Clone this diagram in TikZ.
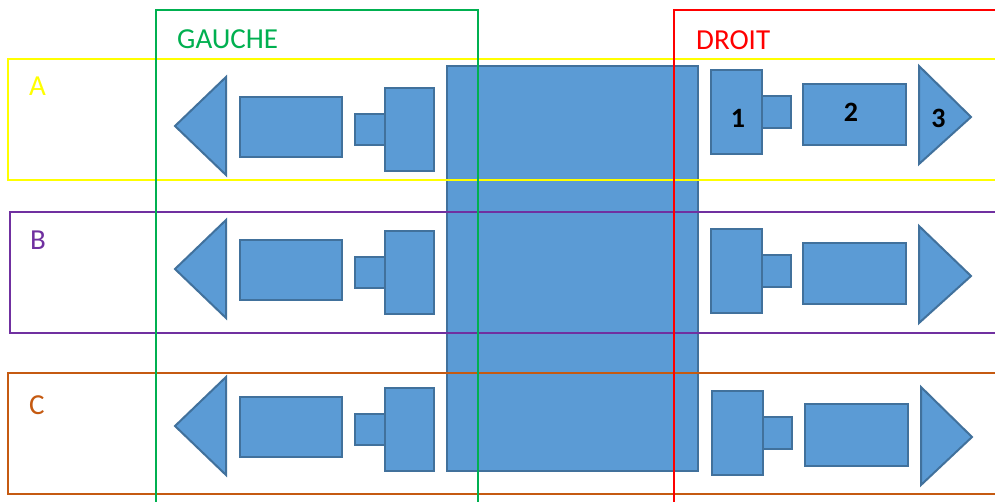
\documentclass[tikz,border=0pt]{standalone}
\usepackage{fontspec}
\setmainfont{Carlito}
\definecolor{shfill}{HTML}{5B9BD5}
\definecolor{shline}{HTML}{41719C}
\definecolor{fgreen}{HTML}{00B050}
\definecolor{fred}{HTML}{FF0000}
\definecolor{fyellow}{HTML}{FFFF00}
\definecolor{fpurple}{HTML}{7030A0}
\definecolor{forange}{HTML}{C55A11}
\tikzset{
  shp/.style={fill=shfill, draw=shline, line width=2pt, line join=miter},
  frm/.style={line width=2.5pt},
  lbl/.style={inner sep=0pt, anchor=base west, font=\fontsize{29}{34}\selectfont},
  num/.style={inner sep=0pt, anchor=base, font=\fontsize{28}{33}\selectfont\bfseries},
}
\begin{document}
\begin{tikzpicture}[x=1pt,y=-1pt]
\clip (0,0) rectangle (995,501);
\fill[white] (0,0) rectangle (995,501);
% central block
\draw[shp] (447,66) rectangle (698,471);
% left rows
\foreach \dy in {0,143,300}{
  \draw[shp] (175,126+\dy) -- (226,77+\dy) -- (226,175+\dy) -- cycle;
  \draw[shp] (240,97+\dy) rectangle (342,157+\dy);
  \draw[shp] (355,114+\dy) rectangle (385,145+\dy);
  \draw[shp] (385,88+\dy) rectangle (434,171+\dy);
}
% right row A
\draw[shp] (711,70) rectangle (762,154);
\draw[shp] (762,96) rectangle (791,128);
\draw[shp] (803,84) rectangle (906,145);
\draw[shp] (919,66) -- (971,117) -- (919,164) -- cycle;
% right row B
\draw[shp] (711,229) rectangle (762,313);
\draw[shp] (762,255) rectangle (791,287);
\draw[shp] (803,243) rectangle (906,304);
\draw[shp] (919,226) -- (971,276) -- (919,323) -- cycle;
% right row C
\draw[shp] (712,391) rectangle (763,475);
\draw[shp] (763,417) rectangle (792,449);
\draw[shp] (805,404) rectangle (908,466);
\draw[shp] (921,387) -- (972,437) -- (921,485) -- cycle;
% numbers
\node[num] (n1) at (738,127.5) {1};
\node[num] (n2) at (851,121) {2};
\node[num] (n3) at (938.5,127.5) {3};
% frames
\draw[frm, fyellow] (8,59) rectangle (1010,180);
\draw[frm, fpurple] (10,212) rectangle (1010,333);
\draw[frm, forange] (8,373) rectangle (1010,494);
\draw[frm, fgreen] (156,520) -- (156,10) -- (478,10) -- (478,520);
\draw[frm, fred] (674,520) -- (674,10) -- (1010,10);
% labels
\node[lbl, text=fgreen] (gauche) at (177,48) {GAUCHE};
\node[lbl, text=fred] (droit) at (696,49) {DROIT};
\node[lbl, text=fyellow] (la) at (29,95) {A};
\node[lbl, text=fpurple] (lb) at (30,249) {B};
\node[lbl, text=forange] (lc) at (29,414) {C};
\end{tikzpicture}
\end{document}
